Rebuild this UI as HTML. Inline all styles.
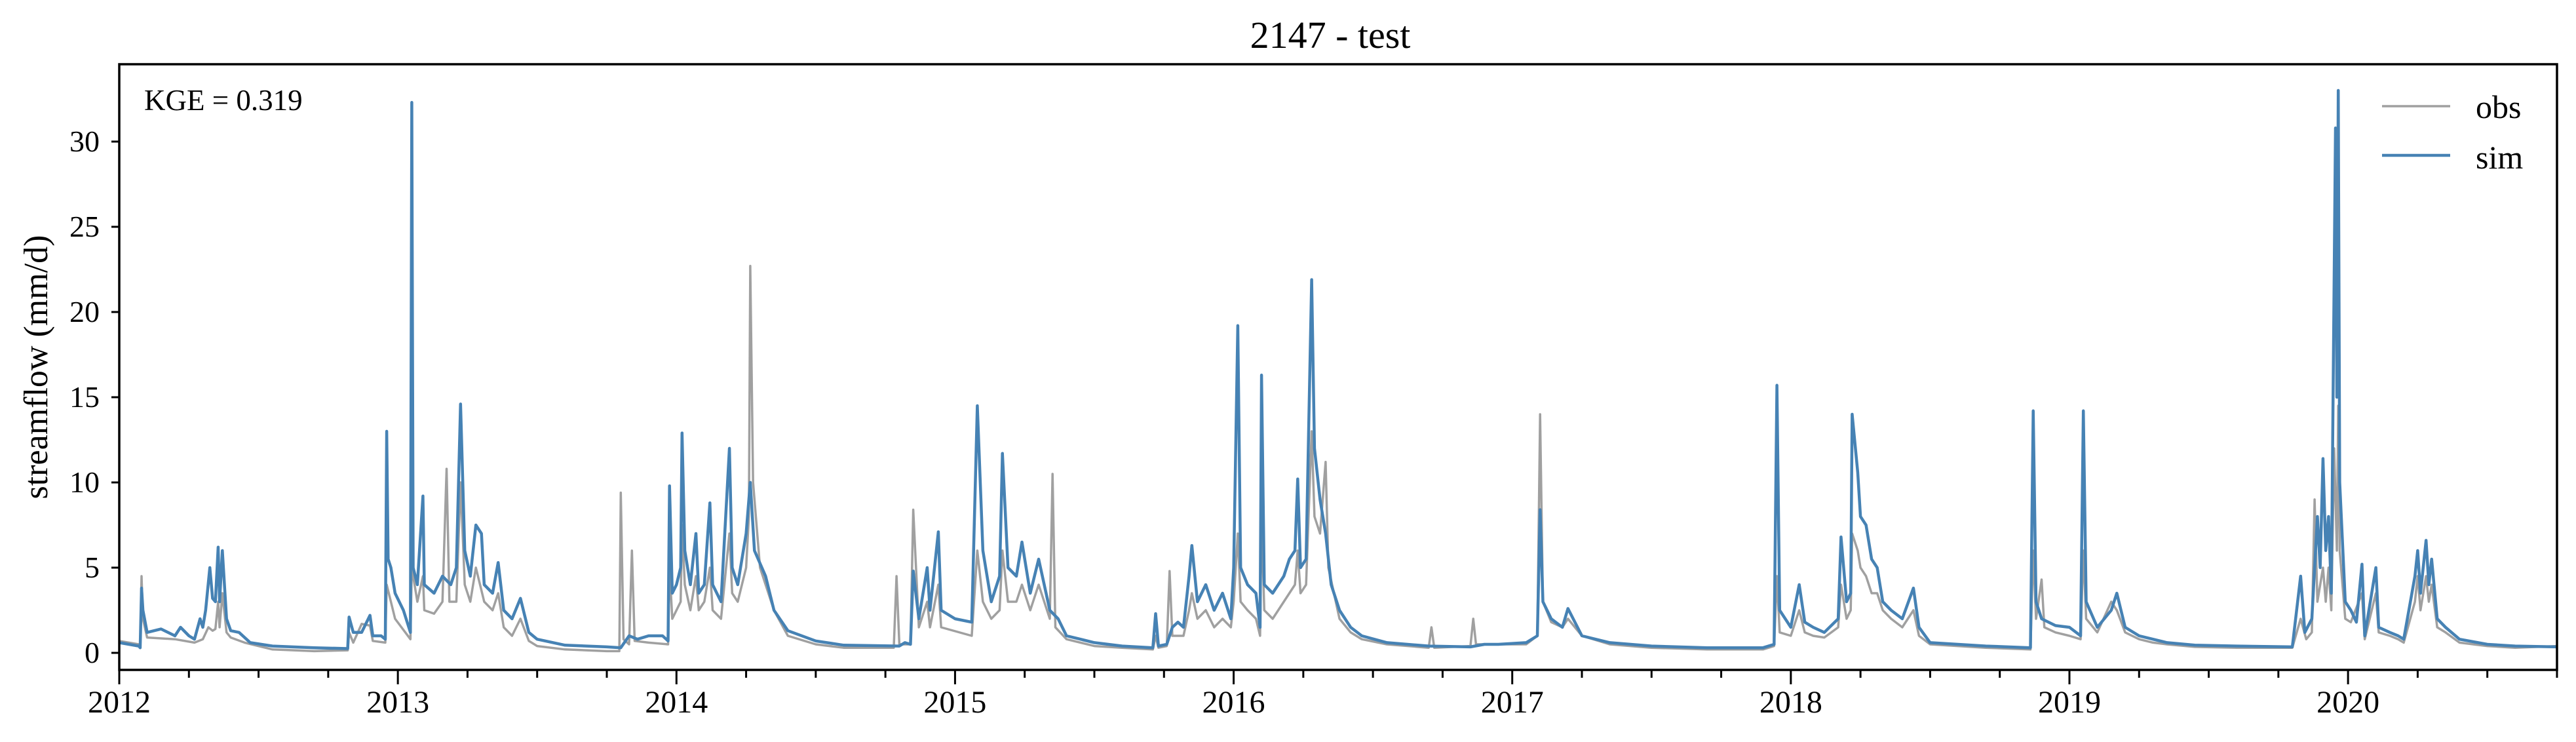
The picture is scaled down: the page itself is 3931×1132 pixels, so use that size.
<!DOCTYPE html>
<html><head><meta charset="utf-8"><style>
html,body{margin:0;padding:0;background:#fff;}
svg{display:block;font-family:"Liberation Serif",serif;}
</style></head><body>
<svg id="chart" width="3931" height="1132" viewBox="0 0 3931 1132" xmlns="http://www.w3.org/2000/svg">
<text x="2030" y="73" font-size="58" text-anchor="middle">2147 - test</text>
<g id="plot"></g>
<rect x="182" y="98" width="3720" height="924" fill="none" stroke="#000" stroke-width="3.5"/>
<text x="220" y="168" font-size="45">KGE = 0.319</text>
<text transform="translate(72,560) rotate(-90)" font-size="52" text-anchor="middle">streamflow (mm/d)</text>
<g>
<line x1="3635" y1="162" x2="3739" y2="162" stroke="#a0a0a0" stroke-width="3.5"/>
<text x="3778" y="180" font-size="50">obs</text>
<line x1="3635" y1="237" x2="3739" y2="237" stroke="#4682b4" stroke-width="4.5"/>
<text x="3778" y="257" font-size="50">sim</text>
</g>
<g id="axes"></g>
</svg>
<script>
const yTicks = [0,5,10,15,20,25,30];
const xYears = [2012,2013,2014,2015,2016,2017,2018,2019,2020];
const simPts = [[0,0.6],[0.07,0.4],[0.075,0.3],[0.08,3.8],[0.085,2.5],[0.1,1.2],[0.15,1.4],[0.2,1.0],[0.22,1.5],[0.25,1.0],[0.27,0.8],[0.29,2.0],[0.3,1.5],[0.31,2.5],[0.325,5.0],[0.335,3.2],[0.345,3.0],[0.355,6.2],[0.36,3.0],[0.37,6.0],[0.385,2.0],[0.4,1.3],[0.43,1.2],[0.47,0.6],[0.55,0.4],[0.7,0.3],[0.82,0.25],[0.825,2.1],[0.84,1.2],[0.87,1.2],[0.9,2.2],[0.91,1.0],[0.94,1.0],[0.955,0.8],[0.96,13.0],[0.965,5.5],[0.975,5.0],[0.99,3.5],[1.02,2.5],[1.045,1.2],[1.05,32.3],[1.055,5.0],[1.07,4.0],[1.09,9.2],[1.095,4.0],[1.13,3.5],[1.16,4.5],[1.19,4.0],[1.21,5.0],[1.225,14.6],[1.24,6.0],[1.26,4.5],[1.28,7.5],[1.3,7.0],[1.31,4.0],[1.34,3.5],[1.36,5.3],[1.38,2.5],[1.41,2.0],[1.44,3.2],[1.47,1.2],[1.5,0.8],[1.6,0.45],[1.75,0.35],[1.8,0.3],[1.83,1.0],[1.86,0.8],[1.9,1.0],[1.95,1.0],[1.97,0.7],[1.975,9.8],[1.985,3.5],[2.0,4.0],[2.015,5.0],[2.02,12.9],[2.03,6.0],[2.05,4.0],[2.07,7.0],[2.08,3.5],[2.1,4.0],[2.12,8.8],[2.13,4.0],[2.16,3.0],[2.19,12.0],[2.2,5.0],[2.22,4.0],[2.25,7.0],[2.265,10.0],[2.28,6.0],[2.32,4.5],[2.35,2.5],[2.4,1.3],[2.5,0.7],[2.6,0.45],[2.8,0.4],[2.82,0.6],[2.84,0.5],[2.85,4.8],[2.87,2.0],[2.9,5.0],[2.91,2.5],[2.94,7.1],[2.95,2.5],[3.0,2.0],[3.06,1.8],[3.08,14.5],[3.1,6.0],[3.13,3.0],[3.16,4.5],[3.17,11.7],[3.19,5.0],[3.22,4.5],[3.24,6.5],[3.27,3.5],[3.3,5.5],[3.34,2.5],[3.37,2.0],[3.4,1.0],[3.5,0.6],[3.6,0.4],[3.71,0.3],[3.72,2.3],[3.73,0.4],[3.76,0.5],[3.78,1.5],[3.8,1.8],[3.82,1.5],[3.84,4.5],[3.85,6.3],[3.87,3.0],[3.9,4.0],[3.93,2.5],[3.96,3.5],[3.99,2.0],[4.0,5.0],[4.015,19.2],[4.025,5.0],[4.05,4.0],[4.08,3.5],[4.095,1.5],[4.1,16.3],[4.11,4.0],[4.14,3.5],[4.18,4.5],[4.2,5.5],[4.22,6.0],[4.23,10.2],[4.24,5.0],[4.26,5.5],[4.28,21.9],[4.29,12.0],[4.31,9.0],[4.33,7.0],[4.35,4.0],[4.38,2.5],[4.42,1.5],[4.46,1.0],[4.55,0.6],[4.7,0.4],[4.85,0.35],[4.9,0.5],[4.95,0.5],[5.05,0.6],[5.09,1.0],[5.1,8.4],[5.11,3.0],[5.14,2.0],[5.18,1.5],[5.2,2.6],[5.25,1.0],[5.35,0.6],[5.5,0.4],[5.7,0.3],[5.9,0.3],[5.94,0.5],[5.95,15.7],[5.96,2.5],[6.0,1.5],[6.03,4.0],[6.05,1.8],[6.08,1.5],[6.12,1.2],[6.17,2.0],[6.18,6.8],[6.2,3.0],[6.215,3.5],[6.22,14.0],[6.24,10.6],[6.25,8.0],[6.27,7.5],[6.29,5.5],[6.31,5.0],[6.33,3.0],[6.36,2.5],[6.4,2.0],[6.44,3.8],[6.46,1.5],[6.5,0.6],[6.6,0.5],[6.7,0.4],[6.86,0.3],[6.87,14.2],[6.88,3.0],[6.9,2.0],[6.95,1.6],[7.0,1.5],[7.04,1.0],[7.05,14.2],[7.06,3.0],[7.1,1.5],[7.15,2.5],[7.17,3.5],[7.2,1.5],[7.25,1.0],[7.3,0.8],[7.35,0.6],[7.45,0.45],[7.6,0.4],[7.8,0.35],[7.83,4.5],[7.845,1.2],[7.87,2.0],[7.89,8.0],[7.9,5.0],[7.91,11.4],[7.92,6.0],[7.93,8.0],[7.94,3.5],[7.955,30.8],[7.96,15.0],[7.965,33.0],[7.97,10.0],[7.99,3.0],[8.01,2.5],[8.03,1.8],[8.05,5.2],[8.06,1.0],[8.1,5.0],[8.11,1.5],[8.15,1.2],[8.18,1.0],[8.2,0.8],[8.24,4.5],[8.25,6.0],[8.26,3.5],[8.28,6.6],[8.29,4.0],[8.3,5.5],[8.32,2.0],[8.35,1.5],[8.4,0.8],[8.5,0.5],[8.6,0.4],[8.75,0.35]];
const obsPts = [[0,0.7],[0.07,0.5],[0.075,0.4],[0.08,4.5],[0.085,2.0],[0.1,0.9],[0.2,0.8],[0.27,0.6],[0.3,0.8],[0.32,1.5],[0.335,1.3],[0.345,1.4],[0.355,3.0],[0.36,1.5],[0.37,3.5],[0.385,1.2],[0.4,0.9],[0.45,0.6],[0.55,0.2],[0.7,0.1],[0.82,0.15],[0.825,1.2],[0.84,0.6],[0.87,1.7],[0.9,1.6],[0.91,0.7],[0.955,0.6],[0.96,4.0],[0.975,3.0],[0.99,2.0],[1.045,0.8],[1.05,5.0],[1.07,3.0],[1.09,4.5],[1.095,2.5],[1.13,2.3],[1.16,3.0],[1.175,10.8],[1.185,3.0],[1.21,3.0],[1.225,10.0],[1.24,4.0],[1.26,3.0],[1.28,5.0],[1.31,3.0],[1.34,2.5],[1.36,3.5],[1.38,1.5],[1.41,1.0],[1.44,2.0],[1.47,0.7],[1.5,0.4],[1.6,0.2],[1.75,0.1],[1.795,0.1],[1.8,9.4],[1.81,0.8],[1.83,0.5],[1.84,6.0],[1.85,0.7],[1.9,0.6],[1.97,0.5],[1.975,5.0],[1.985,2.0],[2.0,2.5],[2.015,3.0],[2.02,7.5],[2.03,4.0],[2.05,2.5],[2.07,4.5],[2.08,2.5],[2.1,3.0],[2.12,5.0],[2.13,2.5],[2.16,2.0],[2.19,7.0],[2.2,3.5],[2.22,3.0],[2.25,5.0],[2.26,8.0],[2.265,22.7],[2.275,10.0],[2.3,5.0],[2.35,2.5],[2.4,1.0],[2.5,0.5],[2.6,0.3],[2.78,0.3],[2.79,4.5],[2.8,0.5],[2.84,0.5],[2.85,8.4],[2.87,1.5],[2.9,3.0],[2.91,1.5],[2.94,4.0],[2.95,1.5],[3.06,1.0],[3.08,6.0],[3.1,3.0],[3.13,2.0],[3.16,2.5],[3.17,6.0],[3.19,3.0],[3.22,3.0],[3.24,4.0],[3.27,2.5],[3.3,4.0],[3.34,2.0],[3.35,10.5],[3.36,1.5],[3.4,0.8],[3.5,0.4],[3.6,0.3],[3.71,0.2],[3.72,1.0],[3.73,0.3],[3.76,0.4],[3.77,4.8],[3.78,1.0],[3.82,1.0],[3.84,2.5],[3.85,3.5],[3.87,2.0],[3.9,2.5],[3.93,1.5],[3.96,2.0],[3.99,1.5],[4.0,3.0],[4.015,7.0],[4.025,3.0],[4.05,2.5],[4.08,2.0],[4.095,1.0],[4.1,8.0],[4.11,2.5],[4.14,2.0],[4.18,3.0],[4.2,3.5],[4.22,4.0],[4.23,6.0],[4.24,3.5],[4.26,4.0],[4.28,13.0],[4.29,8.0],[4.31,7.0],[4.33,11.2],[4.34,5.0],[4.38,2.0],[4.42,1.2],[4.46,0.8],[4.55,0.5],[4.7,0.3],[4.71,1.5],[4.72,0.3],[4.85,0.4],[4.86,2.0],[4.87,0.5],[5.05,0.5],[5.09,1.0],[5.1,14.0],[5.11,3.0],[5.14,1.8],[5.18,1.5],[5.2,2.0],[5.25,1.0],[5.35,0.5],[5.5,0.3],[5.7,0.2],[5.9,0.2],[5.94,0.4],[5.95,4.5],[5.96,1.2],[6.0,1.0],[6.03,2.5],[6.05,1.2],[6.08,1.0],[6.12,0.9],[6.17,1.5],[6.18,4.0],[6.2,2.0],[6.215,2.5],[6.22,7.0],[6.24,6.0],[6.25,5.0],[6.27,4.5],[6.29,3.5],[6.31,3.5],[6.33,2.5],[6.36,2.0],[6.4,1.5],[6.44,2.5],[6.46,1.0],[6.5,0.5],[6.6,0.4],[6.7,0.3],[6.86,0.2],[6.87,6.0],[6.88,2.0],[6.9,4.3],[6.91,1.5],[6.95,1.2],[7.0,1.0],[7.04,0.8],[7.05,6.0],[7.06,2.0],[7.1,1.2],[7.15,3.0],[7.17,2.5],[7.2,1.2],[7.25,0.8],[7.3,0.6],[7.35,0.5],[7.45,0.35],[7.6,0.3],[7.8,0.3],[7.83,2.0],[7.85,0.8],[7.87,1.2],[7.88,9.0],[7.89,3.0],[7.91,5.0],[7.92,3.0],[7.93,5.0],[7.94,2.5],[7.95,12.0],[7.96,6.0],[7.965,14.5],[7.97,6.0],[7.99,2.0],[8.01,1.8],[8.05,3.5],[8.06,0.8],[8.1,3.5],[8.11,1.2],[8.15,1.0],[8.18,0.8],[8.2,0.6],[8.24,3.0],[8.25,4.5],[8.26,2.5],[8.28,4.5],[8.29,3.0],[8.3,4.0],[8.32,1.5],[8.35,1.2],[8.4,0.6],[8.5,0.4],[8.6,0.3],[8.75,0.4]];
</script>
<script>
const NS="http://www.w3.org/2000/svg";
const X0=182, PXY=425.14, Y0=996, PXV=26;
function xs(t){return X0+t*PXY;}
function ys(v){return Y0-v*PXV;}
const plot=document.getElementById('plot');
const axes=document.getElementById('axes');
function mk(tag,attrs,parent){const e=document.createElementNS(NS,tag);for(const k in attrs)e.setAttribute(k,attrs[k]);parent.appendChild(e);return e;}
function path(pts,color,w,name){
  let d='';
  pts.forEach((p,i)=>{d+=(i?'L':'M')+xs(p[0]).toFixed(1)+','+ys(p[1]).toFixed(1);});
  const p=mk('path',{d:d,fill:'none',stroke:color,'stroke-width':w,'stroke-linejoin':'round'},plot);
  
  
}
path(obsPts,'#a0a0a0',3.5,'obs-series-line');
path(simPts,'#4682b4',4.5,'sim-series-line');
yTicks.forEach(v=>{
  const l=mk('line',{x1:X0-12,x2:X0,y1:ys(v),y2:ys(v),stroke:'#000','stroke-width':3},axes);
  
  
  const t=mk('text',{x:X0-30,y:ys(v)+15,'font-size':46,'text-anchor':'end'},axes);
  t.textContent=v;
  
  
});
for(let q=0;q<=35;q++){
  const t=q/4; const major=(q%4===0);
  const l=mk('line',{x1:xs(t),x2:xs(t),y1:1022,y2:1022+(major?22:12),stroke:'#000','stroke-width':3},axes);
  
  
}
xYears.forEach((yr,i)=>{
  const t=mk('text',{x:xs(i),y:1087,'font-size':48,'text-anchor':'middle'},axes);
  t.textContent=yr;
  
  
});
</script>
</body></html>
